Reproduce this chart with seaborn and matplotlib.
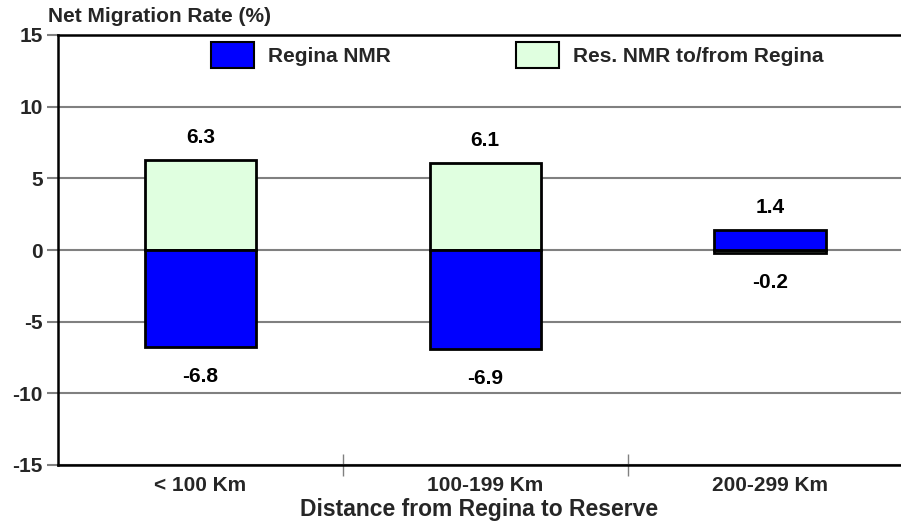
import pandas as pd
import matplotlib.pyplot as plt
from matplotlib.patches import Patch
import seaborn as sns

# data
distances = ["< 100 Km", "100-199 Km", "200-299 Km"]
regina_nmr = [-6.8, -6.9, 1.4]
reserve_nmr = [6.3, 6.1, -0.2]
series_names = ["Res. NMR to/from Regina", "Regina NMR"]
y_ticks = [-15, -10, -5, 0, 5, 10, 15]

BLUE = "#0000FF"
GREEN = "#E0FFE0"
GRID = "#808080"
FS = 15

sns.set_theme(style="white")
plt.rcParams["font.family"] = ["Liberation Sans", "DejaVu Sans"]
plt.rcParams["font.weight"] = "bold"

df = pd.DataFrame({
    "Distance": distances * 2,
    "Series": [series_names[0]] * 3 + [series_names[1]] * 3,
    "NMR": reserve_nmr + regina_nmr,
})

fig = plt.figure(figsize=(9.01, 5.25), dpi=100)
ax = fig.add_axes([58 / 901, 60 / 525, 843 / 901, 430 / 525])

sns.barplot(
    data=df, x="Distance", y="NMR", hue="Series",
    palette={series_names[0]: GREEN, series_names[1]: BLUE},
    saturation=1, dodge=False, width=0.39, edgecolor="black", linewidth=2,
    legend=False, ax=ax, zorder=3,
)

# value labels above / below each bar
for vals in (reserve_nmr, regina_nmr):
    for i, v in enumerate(vals):
        ax.annotate(
            f"{v:.1f}", xy=(i, v), xytext=(0, 16 if v > 0 else -21),
            textcoords="offset points", ha="center", va="center",
            fontsize=FS, fontweight="bold", color="black",
        )

ax.set_xlim(-0.5, 2.46)
ax.set_ylim(-15, 15)
ax.set_yticks(y_ticks)
ax.set_yticklabels([str(t) for t in y_ticks], fontsize=FS, fontweight="bold")
ax.yaxis.grid(True, color=GRID, linewidth=1.5, zorder=0)
ax.set_axisbelow(True)
ax.tick_params(axis="y", left=True, length=8, width=1.5, color=GRID, pad=3)

ax.set_xticks(range(len(distances)))
ax.set_xticklabels(distances, fontsize=FS, fontweight="bold")
ax.tick_params(axis="x", which="major", length=0, pad=8)
ax.set_xticks([0.5, 1.5], minor=True)
ax.tick_params(axis="x", which="minor", bottom=True, direction="inout",
               length=16, width=1, color=GRID)

ax.set_xlabel("Distance from Regina to Reserve", fontsize=16.5,
              fontweight="bold", labelpad=2)
ax.set_ylabel("")
for side in ("left", "top", "bottom"):
    ax.spines[side].set_color("black")
    ax.spines[side].set_linewidth(1.8)
    ax.spines[side].set_zorder(4)
ax.spines["right"].set_visible(False)

handles = [Patch(facecolor=BLUE, edgecolor="black", linewidth=1.5),
           Patch(facecolor=GREEN, edgecolor="black", linewidth=1.5)]
fig.legend(
    handles, ["Regina NMR", "Res. NMR to/from Regina"],
    loc="center left", bbox_to_anchor=(211 / 901, 1 - 55 / 525),
    ncol=2, frameon=False, borderpad=0, borderaxespad=0,
    handlelength=2.05, handleheight=1.5, handletextpad=0.7,
    columnspacing=6.0, prop={"size": FS, "weight": "bold"},
)

fig.text(48 / 901, 1 - 17 / 525, "Net Migration Rate (%)",
         ha="left", va="center", fontsize=FS, fontweight="bold")

fig.savefig("out.png", dpi=100)
